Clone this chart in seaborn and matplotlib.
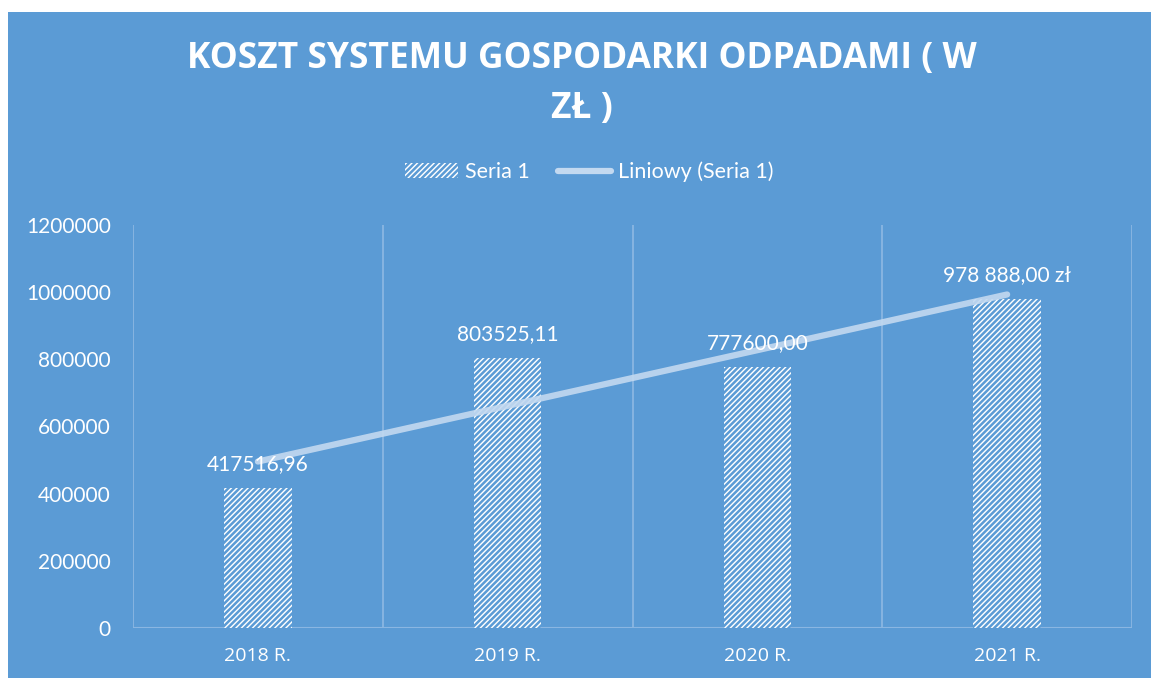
import numpy as np
import pandas as pd
import matplotlib
matplotlib.use("Agg")
import matplotlib.pyplot as plt
import seaborn as sns
from matplotlib.patches import Rectangle, Patch
from matplotlib.lines import Line2D

categories = ["2018 R.", "2019 R.", "2020 R.", "2021 R."]
values = [417516.96, 803525.11, 777600.00, 978888.00]
value_labels = ["417516,96", "803525,11", "777600,00", "978 888,00 zł"]
y_ticks = [0, 200000, 400000, 600000, 800000, 1000000, 1200000]
title = "KOSZT SYSTEMU GOSPODARKI ODPADAMI ( W\nZŁ )"
legend_labels = ["Seria 1", "Liniowy (Seria 1)"]

BG = "#5B9BD5"
GRID = "#8AB6E2"
TREND = "#C3D9F0"

sns.set_theme(style="white")
plt.rcParams["font.family"] = ["Lato", "DejaVu Sans"]
plt.rcParams["hatch.linewidth"] = 1.8

fig = plt.figure(figsize=(11.51, 6.78), dpi=100)
fig.patch.set_facecolor("white")
bgrect = Rectangle((8 / 1151, 0), 1 - 8 / 1151, 1 - 12 / 678,
                   transform=fig.transFigure, facecolor=BG,
                   edgecolor="none", zorder=-10)
fig.patches.append(bgrect)

ax = fig.add_axes([133 / 1151, 1 - 628 / 678, (1132 - 133) / 1151, (628 - 225) / 678])
ax.set_facecolor("none")
ax.set_zorder(1)

df = pd.DataFrame({"cat": categories, "val": values})
sns.barplot(data=df, x="cat", y="val", ax=ax, width=0.27,
            color="white", edgecolor=BG, linewidth=0, hatch="//////",
            saturation=1, zorder=3)
for p in ax.patches:
    p.set_facecolor("white")
    p.set_edgecolor(BG)
    p.set_hatch("//////")
    p.set_linewidth(0)

# linear trend line
xs = np.arange(len(values))
coef = np.polyfit(xs, values, 1)
trend = np.polyval(coef, xs)
sns.lineplot(x=xs, y=trend, ax=ax, color=TREND, linewidth=4.5,
             solid_capstyle="round", zorder=4, alpha=0.9)

# data labels
for i, (v, lab) in enumerate(zip(values, value_labels)):
    ax.annotate(lab, (i, v), xytext=(0, 10), textcoords="offset points",
                ha="center", va="bottom", color="white", fontsize=15, zorder=5)

ax.set_xlim(-0.5, len(categories) - 0.5)
ax.set_ylim(0, 1200000)
ax.set_yticks(y_ticks)
ax.set_yticklabels([str(t) for t in y_ticks], color="white", fontsize=15)
ax.set_xticks(range(len(categories)))
ax.set_xticklabels(categories, color="white", fontsize=14, family=["Open Sans", "DejaVu Sans"])
ax.tick_params(axis="x", pad=14, length=0)
ax.tick_params(axis="y", pad=16, length=0)
ax.set_xlabel("")
ax.set_ylabel("")

# vertical category gridlines
for xb in np.arange(-0.5, len(categories), 1.0):
    ax.axvline(xb, color=GRID, linewidth=1.3, zorder=1)
for s in ax.spines.values():
    s.set_visible(False)
ax.axhline(0, color=GRID, linewidth=1.5, zorder=2)
ax.grid(False)

fig.text(582 / 1151, 1 - 84 / 678, title, ha="center", va="center", color="white",
         fontsize=25.5, fontweight="bold", linespacing=1.55,
         family=["Open Sans", "DejaVu Sans"])

handles = [Patch(facecolor="white", edgecolor=BG, hatch="//////", linewidth=0),
           Line2D([0], [0], color=TREND, linewidth=4.5, solid_capstyle="round")]
leg = fig.legend(handles, legend_labels, loc="center", bbox_to_anchor=(589 / 1151, 1 - 172 / 678),
                 ncol=2, frameon=False, fontsize=15.5, labelcolor="white",
                 handlelength=2.5, handletextpad=0.3, columnspacing=1.3)

fig.savefig("out.png", dpi=100, facecolor=fig.get_facecolor())
